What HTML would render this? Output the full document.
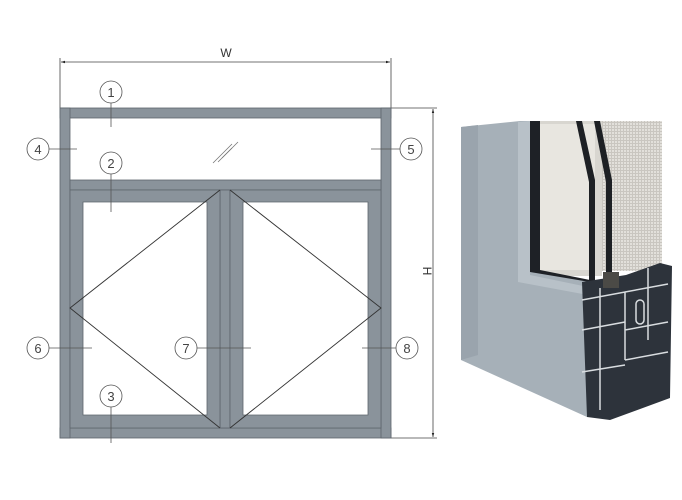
<!DOCTYPE html>
<html><head><meta charset="utf-8"><style>
html,body{margin:0;padding:0;background:#fff;}
svg{display:block;font-family:"Liberation Sans",sans-serif;}
</style></head><body>
<svg width="682" height="500" viewBox="0 0 682 500" xmlns="http://www.w3.org/2000/svg">
<defs>
<pattern id="mesh" width="3" height="3" patternUnits="userSpaceOnUse">
<rect width="3" height="3" fill="#c9c6c0"/><rect width="2" height="2" fill="#e2e0db"/>
</pattern>
<marker id="ar" viewBox="0 0 10 10" refX="10" refY="5" markerWidth="8" markerHeight="5" orient="auto-start-reverse"><path d="M0,2 L10,5 L0,8z" fill="#222"/></marker>
</defs>
<!-- dimension lines -->
<g stroke="#444" stroke-width="0.8" fill="none">
<line x1="60" y1="58" x2="60" y2="108"/><line x1="391" y1="58" x2="391" y2="108"/>
<line x1="61" y1="62" x2="390" y2="62" marker-start="url(#ar)" marker-end="url(#ar)"/>
<line x1="391" y1="108" x2="437" y2="108"/><line x1="391" y1="438" x2="437" y2="438"/>
<line x1="433" y1="109" x2="433" y2="437" marker-start="url(#ar)" marker-end="url(#ar)"/>
</g>
<text x="226" y="57" font-size="12" fill="#333" text-anchor="middle">W</text>
<text x="423" y="271" font-size="12" fill="#333" text-anchor="middle" transform="rotate(90 423 271)">H</text>
<!-- frame -->
<g fill="#8a939b" stroke="#5d656c" stroke-width="0.8">
<rect x="60" y="108" width="331" height="10"/>
<rect x="60" y="428" width="331" height="10"/>
<rect x="60" y="108" width="10" height="330"/>
<rect x="381" y="108" width="10" height="330"/>
<rect x="70" y="180" width="311" height="10"/>
<rect x="220" y="190" width="10" height="238"/>
<path d="M70,190H220V428H70Z M83,202V415H207V202Z" fill-rule="evenodd"/>
<path d="M230,190H381V428H230Z M243,202V415H368V202Z" fill-rule="evenodd"/>
</g>
<g stroke="#333" stroke-width="0.9" fill="none">
<polyline points="220,190 70,308 220,428"/>
<polyline points="230,190 381,308 230,428"/>
</g>
<g stroke="#777" stroke-width="0.8">
<line x1="213" y1="163" x2="232" y2="144"/><line x1="218" y1="162" x2="238" y2="142"/><line x1="222" y1="158" x2="232" y2="148"/>
</g>
<!-- callouts -->
<g stroke="#555" stroke-width="0.8" fill="#fff">
<line x1="111" y1="103" x2="111" y2="127"/>
<line x1="49" y1="149" x2="77" y2="149"/>
<line x1="371" y1="149" x2="400" y2="149"/>
<line x1="111" y1="174" x2="111" y2="212"/>
<line x1="49" y1="348" x2="92" y2="348"/>
<line x1="197" y1="348" x2="251" y2="348"/>
<line x1="362" y1="348" x2="396" y2="348"/>
<line x1="111" y1="407" x2="111" y2="443"/>
<circle cx="111" cy="92" r="11"/><circle cx="38" cy="149" r="11"/>
<circle cx="111" cy="163" r="11"/><circle cx="411" cy="149" r="11"/>
<circle cx="38" cy="348" r="11"/><circle cx="186" cy="348" r="11"/>
<circle cx="407" cy="348" r="11"/><circle cx="111" cy="396" r="11"/>
</g>
<g font-size="13" fill="#444" text-anchor="middle">
<text x="111" y="97">1</text><text x="38" y="154">4</text><text x="111" y="168">2</text><text x="411" y="154">5</text>
<text x="38" y="353">6</text><text x="186" y="353">7</text><text x="407" y="353">8</text><text x="111" y="401">3</text>
</g>
<!-- photo -->
<rect x="598" y="121" width="64" height="150" fill="url(#mesh)"/>
<rect x="530" y="121" width="72" height="155" fill="#d8d6d0"/>
<rect x="540" y="124" width="55" height="146" fill="#e8e6e0"/>
<path d="M530,121 L540,121 L540,270 L600,282 L598,290 L530,275Z" fill="#1e2126"/>
<path d="M576,121 L582,121 L595,180 L595,290 L589,290 L589,182Z" fill="#1d2024"/>
<path d="M594,121 L600,121 L612,180 L612,285 L606,285 L606,182Z" fill="#1d2024"/>
<path d="M461,127 L520,121 L530,121 L530,272 L590,282 L587,417 L461,360Z" fill="#a6b0b8"/>
<path d="M461,127 L478,125 L478,355 L461,360Z" fill="#9aa4ad"/>
<path d="M518,122 L530,121 L530,275 L588,287 L588,295 L518,282Z" fill="#b8c1c8"/>
<path d="M582,282 L626,275 L660,263 L672,266 L670,398 L610,420 L587,417Z" fill="#2d333b"/>
<g stroke="#d9dde0" stroke-width="1.5" fill="none">
<path d="M582,300 L625,292 L625,360 M582,330 L625,322 M582,372 L625,365 M600,288 L600,410 M625,292 L668,284 M625,330 L668,322 M625,360 L668,352 M648,268 L648,340"/>
<rect x="636" y="300" width="8" height="24" rx="4"/>
</g>
<rect x="603" y="272" width="16" height="16" fill="#4b4a46"/>
</svg>
</body></html>
